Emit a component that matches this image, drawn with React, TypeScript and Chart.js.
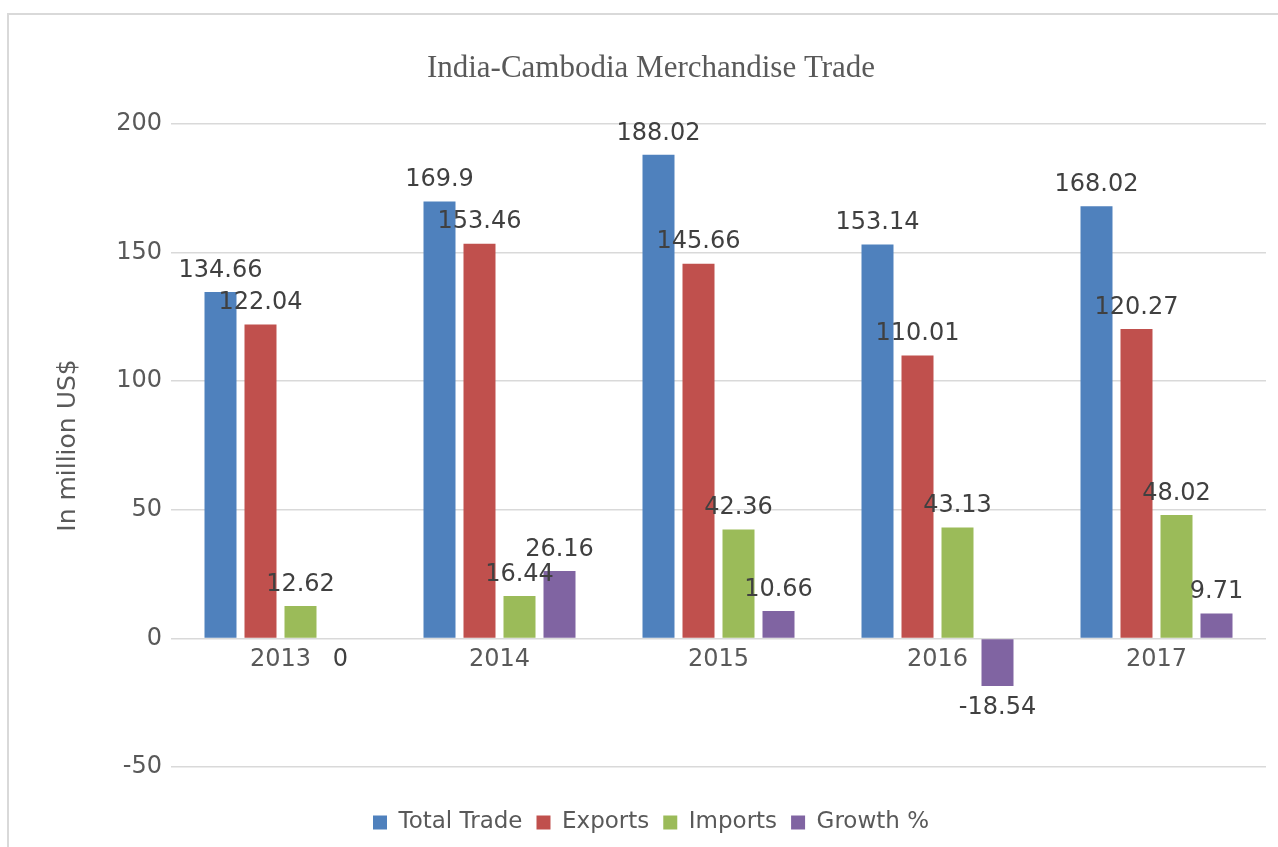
import React, { useEffect, useRef } from "react";
import { Chart, registerables } from "chart.js";

Chart.register(...registerables);

const years = ["2013", "2014", "2015", "2016", "2017"];
const totalTrade = [134.66, 169.9, 188.02, 153.14, 168.02];
const exportsData = [122.04, 153.46, 145.66, 110.01, 120.27];
const importsData = [12.62, 16.44, 42.36, 43.13, 48.02];
const growthPct = [0, 26.16, 10.66, -18.54, 9.71];
const seriesNames = ["Total Trade", "Exports", "Imports", "Growth %"];
const seriesColors = ["#4F81BD", "#C0504D", "#9BBB59", "#8064A2"];
const yTicks = [-50, 0, 50, 100, 150, 200];

const valueLabels = {
  id: "valueLabels",
  afterDatasetsDraw(chart: any) {
    const ctx = chart.ctx;
    ctx.save();
    ctx.font = "24px 'DejaVu Sans'";
    ctx.fillStyle = "#404040";
    ctx.textAlign = "center";
    ctx.textBaseline = "middle";
    chart.data.datasets.forEach((ds: any, i: number) => {
      const meta = chart.getDatasetMeta(i);
      meta.data.forEach((el: any, j: number) => {
        const v = ds.data[j];
        const y = v > 0 ? el.y - 21.5 : el.y + 21.5;
        ctx.fillText(String(v), el.x, y);
      });
    });
    ctx.restore();
  },
};

export default function App() {
  const ref = useRef<HTMLCanvasElement>(null);

  useEffect(() => {
    if (!ref.current) return;
    Chart.defaults.font.family = "'DejaVu Sans', sans-serif";
    const series = [totalTrade, exportsData, importsData, growthPct];
    const chart = new Chart(ref.current, {
      type: "bar",
      data: {
        labels: years,
        datasets: series.map((d, i) => ({
          label: seriesNames[i],
          data: d,
          backgroundColor: seriesColors[i],
          borderWidth: 0,
          barPercentage: 0.8,
          categoryPercentage: 0.7306,
          xAxisID: "x",
          yAxisID: "y",
        })),
      },
      options: {
        responsive: false,
        animation: false,
        devicePixelRatio: 1,
        layout: { padding: { left: 28, right: 28, top: 0, bottom: 3 } },
        scales: {
          x: {
            position: { y: 0 } as any,
            grid: { display: false, drawTicks: false },
            border: { display: false },
            ticks: {
              color: "#595959",
              font: { size: 24 },
              padding: 7,
              maxRotation: 0,
              autoSkip: false,
            },
            afterFit: (s: any) => {
              s.height = 0;
            },
          },
          xb: {
            type: "category",
            position: "bottom",
            grid: { display: false },
            border: { display: false },
            ticks: { display: false },
            afterFit: (s: any) => {
              s.height = 30;
            },
          },
          y: {
            min: -50,
            max: 200,
            afterBuildTicks: (s: any) => {
              s.ticks = yTicks.map((value) => ({ value }));
            },
            grid: { color: "#d9d9d9", lineWidth: 1.5, drawTicks: false },
            border: { display: false },
            ticks: { color: "#595959", font: { size: 24 }, padding: 9 },
            title: {
              display: true,
              text: "In million US$",
              color: "#595959",
              font: { size: 25 },
              padding: { top: 17, bottom: 0 },
            },
            afterFit: (s: any) => {
              s.width = 135;
            },
          },
        },
        plugins: {
          title: {
            display: true,
            text: "India-Cambodia Merchandise Trade",
            color: "#595959",
            font: { family: "'Liberation Serif', serif", size: 31, weight: "normal" },
            padding: { top: 50.4, bottom: 36.4 },
          },
          legend: {
            position: "bottom",
            labels: {
              boxWidth: 14,
              boxHeight: 14,
              padding: 14,
              color: "#595959",
              font: { size: 23 },
            },
          },
          tooltip: { enabled: false },
        },
      } as any,
      plugins: [valueLabels],
    });
    return () => chart.destroy();
  }, []);

  return (
    <div
      style={{
        position: "fixed",
        left: 0,
        top: 0,
        width: 1278,
        height: 847,
        overflow: "hidden",
        background: "#ffffff",
      }}
    >
      <div
        style={{
          position: "absolute",
          left: 7,
          top: 13,
          width: 1320,
          height: 900,
          border: "2px solid #d9d9d9",
          boxSizing: "border-box",
        }}
      />
      <div style={{ position: "absolute", left: 8, top: 0, width: 1286, height: 847 }}>
        <canvas ref={ref} width={1286} height={847} style={{ display: "block" }} />
      </div>
    </div>
  );
}
